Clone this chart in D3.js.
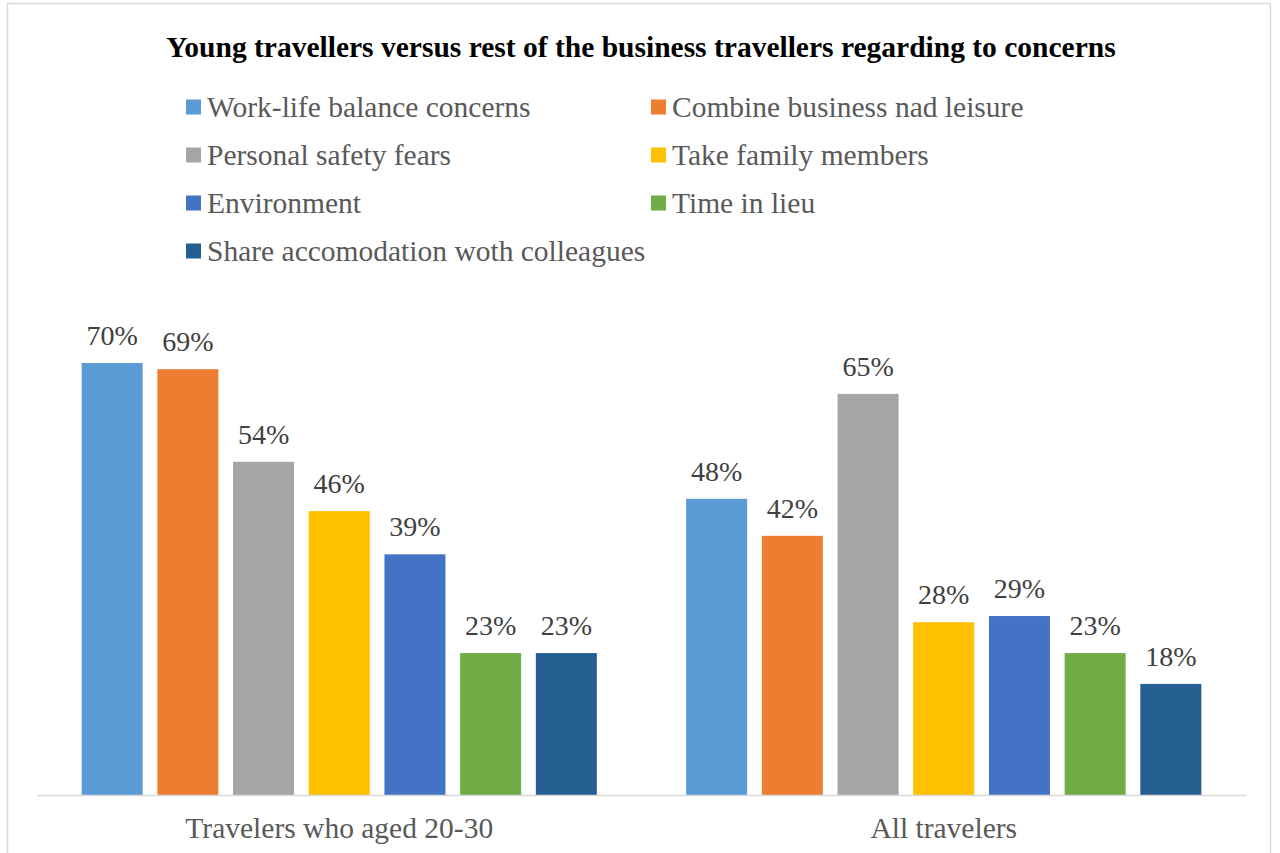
<!DOCTYPE html>
<html>
<head>
<meta charset="utf-8">
<script src="https://cdn.jsdelivr.net/npm/d3@7"></script>
<style>
  html, body { margin: 0; padding: 0; background: #fff; }
  svg { display: block; }
</style>
</head>
<body>
<svg id="chart" width="1280" height="853"></svg>
<script>
// Groups along the x axis
const categories = ["Travelers who aged 20-30", "All travelers"];
// Concern series (legend order)
const seriesNames = [
  "Work-life balance concerns",
  "Combine business nad leisure",
  "Personal safety fears",
  "Take family members",
  "Environment",
  "Time in lieu",
  "Share accomodation woth colleagues"
];
const seriesColors = ["#5B9BD5", "#ED7D31", "#A5A5A5", "#FFC000", "#4472C4", "#70AD47", "#255E91"];
// Percent values per series: [young travellers, all travellers]
const workLife = [70, 48];
const combineLeisure = [69, 42];
const safetyFears = [54, 65];
const familyMembers = [46, 28];
const environment = [39, 29];
const timeInLieu = [23, 23];
const shareAccommodation = [23, 18];
const seriesValues = [workLife, combineLeisure, safetyFears, familyMembers, environment, timeInLieu, shareAccommodation];
const yMax = 80;

const svg = d3.select("#chart");
const serif = "'Liberation Serif', 'Times New Roman', serif";

// Outer chart border
svg.append("rect")
  .attr("x", 7.5).attr("y", 3.5)
  .attr("width", 1263).attr("height", 860)
  .attr("fill", "#fff").attr("stroke", "#d9d9d9").attr("stroke-width", 1.5);

// Title
svg.append("text")
  .attr("x", 641).attr("y", 57)
  .attr("text-anchor", "middle")
  .attr("font-family", serif).attr("font-weight", "bold").attr("font-size", 29.5)
  .attr("fill", "#000")
  .text("Young travellers versus rest of the business travellers regarding to concerns");

// Legend: two columns, four rows
const legend = svg.append("g");
seriesNames.forEach((name, i) => {
  const col = i % 2, row = Math.floor(i / 2);
  const g = legend.append("g")
    .attr("transform", `translate(${col === 0 ? 186 : 651},${107 + row * 48})`);
  g.append("rect").attr("x", 0).attr("y", -7.5).attr("width", 15).attr("height", 15)
    .attr("fill", seriesColors[i]);
  g.append("text").attr("x", 21).attr("y", 10)
    .attr("font-family", serif).attr("font-size", 29.5).attr("fill", "#595959")
    .text(name);
});

// Scales
const plotLeft = 37, plotRight = 1246, baseY = 795;
const x0 = d3.scaleBand().domain(categories).range([plotLeft, plotRight]).paddingInner(0).paddingOuter(0);
const x1 = d3.scaleBand().domain(d3.range(seriesNames.length))
  .range([0, x0.bandwidth()]).paddingInner(0.194).paddingOuter(0.59);
const y = d3.scaleLinear().domain([0, yMax]).range([baseY, baseY - yMax * 6.171]);

// Bars and value labels
categories.forEach((cat, ci) => {
  const g = svg.append("g").attr("transform", `translate(${x0(cat)},0)`);
  seriesValues.forEach((vals, si) => {
    const v = vals[ci];
    g.append("rect")
      .attr("x", x1(si)).attr("y", y(v))
      .attr("width", x1.bandwidth()).attr("height", y(0) - y(v))
      .attr("fill", seriesColors[si]);
    g.append("text")
      .attr("x", x1(si) + x1.bandwidth() / 2).attr("y", y(v) - 18)
      .attr("text-anchor", "middle")
      .attr("font-family", serif).attr("font-size", 28).attr("fill", "#404040")
      .text(v + "%");
  });
});

// Category axis
const xAxis = svg.append("g").attr("transform", `translate(0,${baseY})`)
  .call(d3.axisBottom(x0).tickSize(0).tickPadding(0));
xAxis.select(".domain").attr("stroke", "#d9d9d9").attr("stroke-width", 1.5);
xAxis.selectAll(".tick text")
  .attr("dy", 0).attr("y", 43)
  .attr("font-family", serif).attr("font-size", 29.5).attr("fill", "#595959");
</script>
</body>
</html>
